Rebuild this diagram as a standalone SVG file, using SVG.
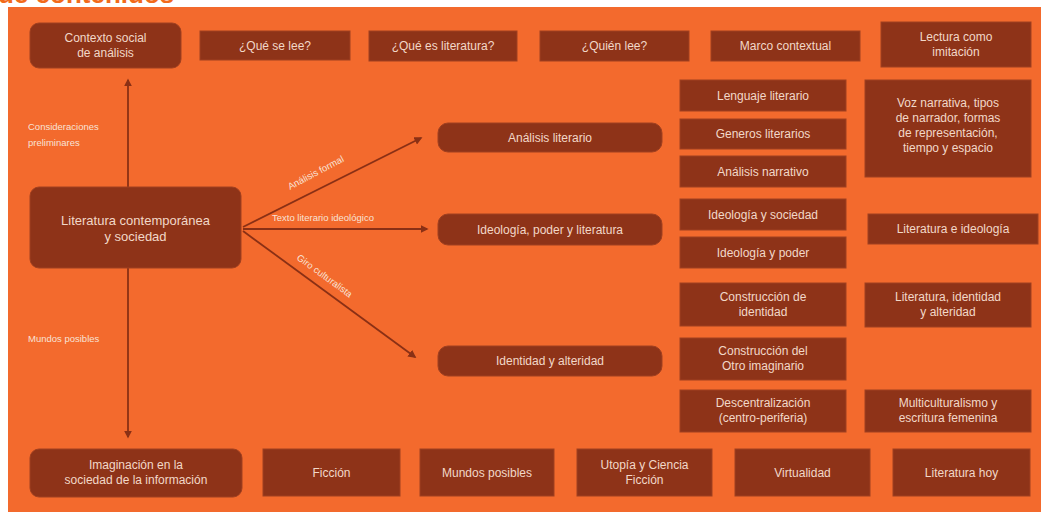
<svg xmlns="http://www.w3.org/2000/svg" width="1041" height="512" viewBox="0 0 1041 512">
<style>
.bg{fill:#f36a2d}
.box{fill:#8e3318;stroke:#a04020;stroke-width:1}
.t{font-family:"Liberation Sans",Arial,sans-serif;font-size:12px;fill:#f2d8c8;text-anchor:middle}
.lbl{font-family:"Liberation Sans",Arial,sans-serif;font-size:9.5px;fill:#f8e2d6}
.c{stroke:#8a3015;stroke-width:1.8;fill:none}
.title{font-family:"Liberation Sans",Arial,sans-serif;font-size:26px;font-weight:bold;fill:#f26a1b}
</style>
<defs>
<marker id="ah" viewBox="0 0 10 10" refX="8" refY="5" markerWidth="4.5" markerHeight="4.5" orient="auto">
<path d="M0,0 L10,5 L0,10 z" fill="#8a3015"/>
</marker>
</defs>
<rect x="0" y="0" width="1041" height="512" fill="#ffffff"/>
<text class="title" x="-2" y="3">de contenidos</text>
<rect class="bg" x="8" y="7" width="1033" height="505"/>

<g id="connectors">
<line class="c" x1="128" y1="188" x2="128" y2="80" marker-end="url(#ah)"/>
<line class="c" x1="128" y1="268" x2="128" y2="437" marker-end="url(#ah)"/>
<line class="c" x1="243" y1="227" x2="421" y2="138" marker-end="url(#ah)"/>
<line class="c" x1="243" y1="229" x2="427" y2="229" marker-end="url(#ah)"/>
<line class="c" x1="243" y1="231" x2="415" y2="357" marker-end="url(#ah)"/>
<text class="lbl" x="28" y="130">Consideraciones</text>
<text class="lbl" x="28" y="146">preliminares</text>
<text class="lbl" x="28" y="342">Mundos posibles</text>
<text class="lbl" transform="translate(290,190) rotate(-28)">Análisis formal</text>
<text class="lbl" x="272" y="221">Texto literario ideológico</text>
<text class="lbl" transform="translate(296,259) rotate(36)">Giro culturalista</text>
</g>

<g id="n-contexto"><rect class="box" x="30" y="23" width="151" height="45" rx="9"/><text class="t" x="105.5" y="42">Contexto social</text><text class="t" x="105.5" y="57">de análisis</text></g>
<g id="n-quese"><rect class="box" x="200" y="31" width="150" height="29"/><text class="t" x="275" y="50">¿Qué se lee?</text></g>
<g id="n-quees"><rect class="box" x="369" y="31" width="148" height="30"/><text class="t" x="443" y="50">¿Qué es literatura?</text></g>
<g id="n-quien"><rect class="box" x="540" y="31" width="149" height="30"/><text class="t" x="614.5" y="50">¿Quién lee?</text></g>
<g id="n-marco"><rect class="box" x="711" y="31" width="149" height="30"/><text class="t" x="785.5" y="50">Marco contextual</text></g>
<g id="n-lectura"><rect class="box" x="881" y="22" width="150" height="45"/><text class="t" x="956" y="41">Lectura como</text><text class="t" x="956" y="56">imitación</text></g>

<g id="n-central"><rect class="box" x="30" y="187" width="211" height="81" rx="9"/><text class="t" x="135.5" y="225" style="font-size:13px">Literatura contemporánea</text><text class="t" x="135.5" y="241" style="font-size:13px">y sociedad</text></g>

<g id="n-analisis"><rect class="box" x="438" y="123" width="224" height="29" rx="10"/><text class="t" x="550" y="142">Análisis literario</text></g>
<g id="n-ideologia"><rect class="box" x="438" y="214" width="224" height="31" rx="10"/><text class="t" x="550" y="234">Ideología, poder y literatura</text></g>
<g id="n-identidad"><rect class="box" x="438" y="346" width="224" height="30" rx="10"/><text class="t" x="550" y="365">Identidad y alteridad</text></g>

<g id="n-lenguaje"><rect class="box" x="680" y="80" width="166" height="31"/><text class="t" x="763" y="100">Lenguaje literario</text></g>
<g id="n-generos"><rect class="box" x="680" y="119" width="166" height="30"/><text class="t" x="763" y="138">Generos literarios</text></g>
<g id="n-narrativo"><rect class="box" x="680" y="156" width="166" height="31"/><text class="t" x="763" y="176">Análisis narrativo</text></g>
<g id="n-ideosoc"><rect class="box" x="680" y="199" width="166" height="31"/><text class="t" x="763" y="219">Ideología y sociedad</text></g>
<g id="n-ideopod"><rect class="box" x="680" y="237" width="166" height="31"/><text class="t" x="763" y="257">Ideología y poder</text></g>
<g id="n-construid"><rect class="box" x="680" y="283" width="166" height="43"/><text class="t" x="763" y="301">Construcción de</text><text class="t" x="763" y="316">identidad</text></g>
<g id="n-construotro"><rect class="box" x="680" y="338" width="166" height="42"/><text class="t" x="763" y="355">Construcción del</text><text class="t" x="763" y="370">Otro imaginario</text></g>
<g id="n-descentra"><rect class="box" x="680" y="390" width="166" height="42"/><text class="t" x="763" y="407">Descentralización</text><text class="t" x="763" y="422">(centro-periferia)</text></g>

<g id="n-voz"><rect class="box" x="865" y="80" width="166" height="97"/><text class="t" x="948" y="107">Voz narrativa, tipos</text><text class="t" x="948" y="122">de narrador, formas</text><text class="t" x="948" y="137">de representación,</text><text class="t" x="948" y="152">tiempo y espacio</text></g>
<g id="n-litideo"><rect class="box" x="868" y="214" width="170" height="30"/><text class="t" x="953" y="233">Literatura e ideología</text></g>
<g id="n-litident"><rect class="box" x="865" y="283" width="166" height="44"/><text class="t" x="948" y="301">Literatura, identidad</text><text class="t" x="948" y="316">y alteridad</text></g>
<g id="n-multi"><rect class="box" x="865" y="390" width="166" height="42"/><text class="t" x="948" y="407">Multiculturalismo y</text><text class="t" x="948" y="422">escritura femenina</text></g>

<g id="n-imaginacion"><rect class="box" x="30" y="449" width="212" height="48" rx="9"/><text class="t" x="136" y="469">Imaginación en la</text><text class="t" x="136" y="484">sociedad de la información</text></g>
<g id="n-ficcion"><rect class="box" x="263" y="449" width="137" height="47"/><text class="t" x="331.5" y="477">Ficción</text></g>
<g id="n-mundos"><rect class="box" x="420" y="449" width="134" height="47"/><text class="t" x="487" y="477">Mundos posibles</text></g>
<g id="n-utopia"><rect class="box" x="577" y="449" width="135" height="47"/><text class="t" x="644.5" y="469">Utopía y Ciencia</text><text class="t" x="644.5" y="484">Ficción</text></g>
<g id="n-virtualidad"><rect class="box" x="735" y="449" width="135" height="47"/><text class="t" x="802.5" y="477">Virtualidad</text></g>
<g id="n-hoy"><rect class="box" x="893" y="449" width="137" height="47"/><text class="t" x="961.5" y="477">Literatura hoy</text></g>
</svg>
